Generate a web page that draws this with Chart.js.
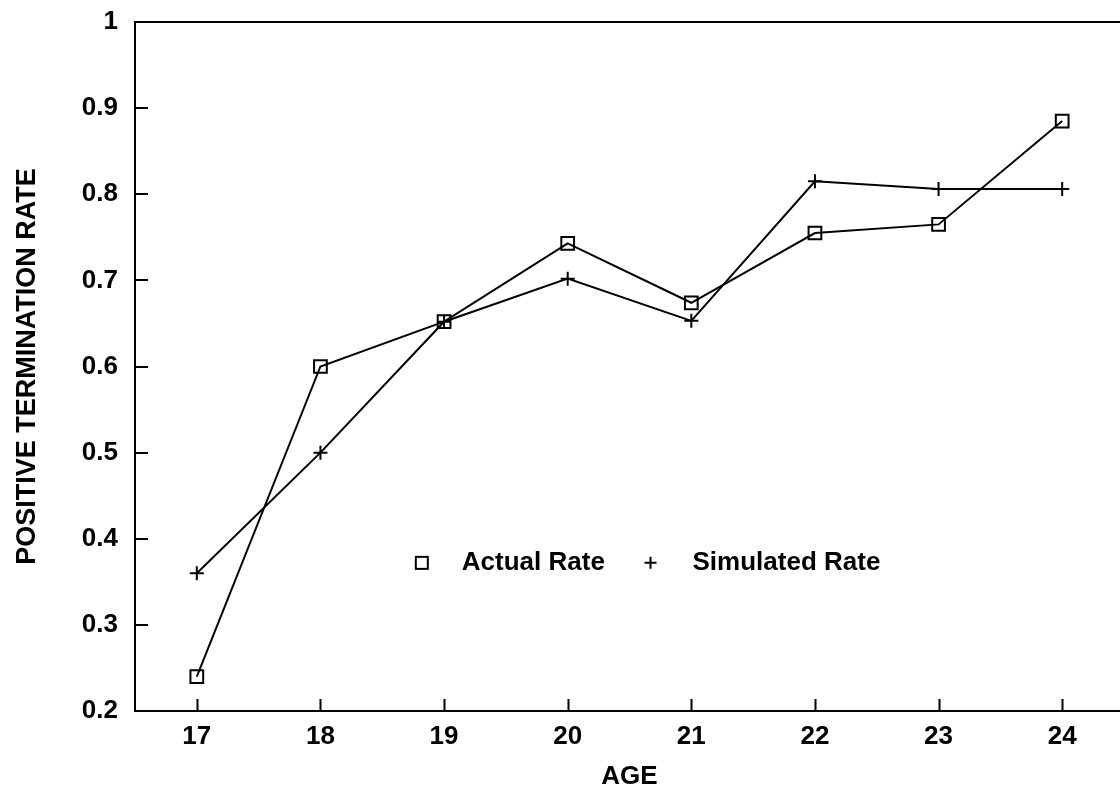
<!DOCTYPE html>
<html>
<head>
<meta charset="utf-8">
<script src="https://cdn.jsdelivr.net/npm/chart.js@4"></script>
<style>
	html, body { margin: 0; padding: 0; background: #fff; overflow: hidden; }
	#wrap { width: 1135px; height: 789px; }
</style>
</head>
<body>
<div id="wrap"><canvas id="chart" width="1135" height="789"></canvas></div>
<script>
// data
var ages = [17, 18, 19, 20, 21, 22, 23, 24];
var actualRate = [0.24, 0.60, 0.652, 0.743, 0.674, 0.755, 0.765, 0.885];
var simulatedRate = [0.36, 0.50, 0.652, 0.702, 0.653, 0.815, 0.806, 0.806];
var yTicks = [0.2, 0.3, 0.4, 0.5, 0.6, 0.7, 0.8, 0.9, 1];
var labels = ['Actual Rate', 'Simulated Rate'];

var FONT = 'Liberation Sans, Arial, Helvetica, sans-serif';

function toPoints(vals){
	return ages.map((a, i) => ({x: a, y: vals[i]}));
}

// ticks pointing into the plot, drawn from the scales
var innerTicks = {
	id: 'innerTicks',
	afterDraw(chart){
		var ctx = chart.ctx;
		var area = chart.chartArea;
		var sx = chart.scales.x;
		var sy = chart.scales.y;
		ctx.save();
		ctx.strokeStyle = '#000';
		ctx.lineWidth = 2;
		ctx.beginPath();
		sx.ticks.forEach(t => {
			var px = Math.round(sx.getPixelForValue(t.value)) + 0.5;
			ctx.moveTo(px, area.bottom);
			ctx.lineTo(px, area.bottom - 12);
		});
		sy.ticks.forEach(t => {
			var py = Math.round(sy.getPixelForValue(t.value));
			ctx.moveTo(area.left, py);
			ctx.lineTo(area.left + 13, py);
		});
		ctx.stroke();
		ctx.restore();
	}
};

// legend inside the plot
var innerLegend = {
	id: 'innerLegend',
	afterDraw(chart){
		var ctx = chart.ctx;
		var sx = chart.scales.x;
		var sy = chart.scales.y;
		var y = sy.getPixelForValue(0.372);
		var x1 = sx.getPixelForValue(18.82);
		var x2 = sx.getPixelForValue(20.67);
		ctx.save();
		ctx.strokeStyle = '#000';
		ctx.fillStyle = '#000';
		ctx.lineWidth = 2;
		// square
		ctx.strokeRect(x1 - 6, y - 6, 12, 12);
		// plus
		ctx.beginPath();
		ctx.moveTo(x2 - 6, y); ctx.lineTo(x2 + 6, y);
		ctx.moveTo(x2, y - 6); ctx.lineTo(x2, y + 6);
		ctx.stroke();
		ctx.font = 'bold 26px ' + FONT;
		ctx.textBaseline = 'middle';
		ctx.textAlign = 'left';
		ctx.fillText(labels[0], x1 + 40, y);
		ctx.fillText(labels[1], x2 + 42, y);
		ctx.restore();
	}
};

var chart = new Chart(document.getElementById('chart'), {
	type: 'line',
	data: {
		datasets: [{
			label: labels[0],
			data: toPoints(actualRate),
			borderColor: '#000',
			borderWidth: 2,
			backgroundColor: 'rgba(0,0,0,0)',
			pointStyle: 'rect',
			pointRadius: 9,
			pointBorderWidth: 2,
			pointBorderColor: '#000',
			pointBackgroundColor: 'rgba(0,0,0,0)',
			tension: 0,
		}, {
			label: labels[1],
			data: toPoints(simulatedRate),
			borderColor: '#000',
			borderWidth: 2,
			backgroundColor: 'rgba(0,0,0,0)',
			pointStyle: 'cross',
			pointRadius: 7,
			pointBorderWidth: 2,
			pointBorderColor: '#000',
			tension: 0,
		}]
	},
	options: {
		responsive: false,
		animation: false,
		layout: {
			padding: {top: 22, right: 6, left: 0, bottom: 0}
		},
		plugins: {
			legend: {display: false},
			tooltip: {enabled: false},
		},
		scales: {
			x: {
				type: 'linear',
				min: 16.5,
				max: 24.5,
				afterBuildTicks: s => { s.ticks = ages.map(v => ({value: v})); },
				afterFit: s => { s.height = 78; s.paddingLeft = 0; s.paddingRight = 0; },
				grid: {display: false, drawTicks: false},
				border: {display: true, color: '#000', width: 2},
				ticks: {
					color: '#000',
					padding: 10,
					font: {family: FONT, size: 26, weight: 'bold'},
				},
				title: {
					display: true,
					text: 'AGE',
					color: '#000',
					padding: {top: 0, bottom: 2},
					font: {family: FONT, size: 26, weight: 'bold', lineHeight: 0.75},
				}
			},
			xTop: {
				type: 'linear',
				position: 'top',
				min: 16.5,
				max: 24.5,
				afterFit: s => { s.height = 0; s.paddingLeft = 0; s.paddingRight = 0; },
				grid: {display: false, drawTicks: false},
				border: {display: true, color: '#000', width: 2},
				ticks: {display: false},
			},
			y: {
				type: 'linear',
				min: 0.2,
				max: 1,
				afterBuildTicks: s => { s.ticks = yTicks.map(v => ({value: v})); },
				afterFit: s => { s.width = 135; s.paddingTop = 0; s.paddingBottom = 0; },
				grid: {display: false, drawTicks: false},
				border: {display: true, color: '#000', width: 2},
				ticks: {
					color: '#000',
					padding: 17,
					callback: v => String(+v.toFixed(1)),
					font: {family: FONT, size: 26, weight: 'bold'},
				},
				title: {
					display: true,
					text: 'POSITIVE TERMINATION RATE',
					color: '#000',
					padding: {top: 11, bottom: 0},
					font: {family: FONT, size: 27, weight: 'bold'},
				}
			}
		}
	},
	plugins: [innerTicks, innerLegend]
});
</script>
</body>
</html>
